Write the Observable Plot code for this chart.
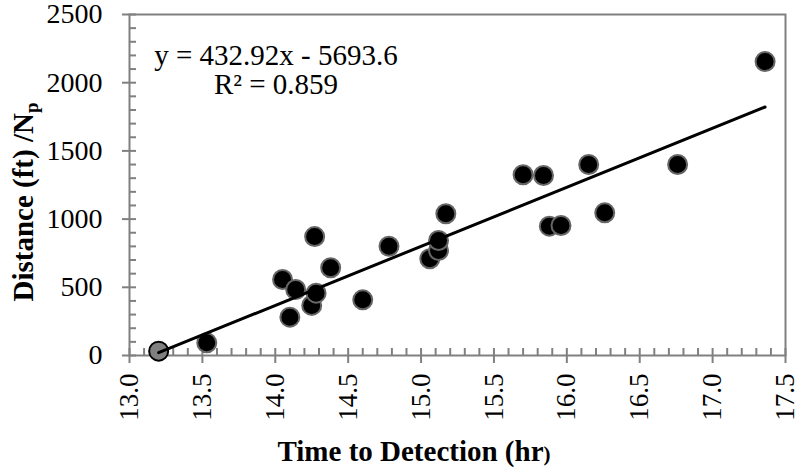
<!DOCTYPE html>
<html><head><meta charset="utf-8">
<script src="https://cdn.jsdelivr.net/npm/d3@7"></script>
<script src="https://cdn.jsdelivr.net/npm/@observablehq/plot@0.6"></script>
<style>body{margin:0;background:#fff} svg{display:block} svg text{font-family:'Liberation Serif','Times New Roman',serif !important}</style>
</head><body><div id="chart"></div>
<script>
// Data
const times = [13.53, 14.05, 14.10, 14.14, 14.25, 14.27, 14.28, 14.38, 14.60, 14.78, 15.06, 15.12, 15.12, 15.17, 15.70, 15.84, 15.88, 15.96, 16.15, 16.26, 16.76, 17.36];
const distances = [93, 557, 281, 484, 367, 872, 457, 643, 408, 801, 709, 770, 843, 1039, 1325, 1320, 948, 953, 1400, 1046, 1400, 2155];
const refTime = [13.20];
const refDistance = [32];
const xTicks = [13.0, 13.5, 14.0, 14.5, 15.0, 15.5, 16.0, 16.5, 17.0, 17.5];
const xTickLabels = ["13.0", "13.5", "14.0", "14.5", "15.0", "15.5", "16.0", "16.5", "17.0", "17.5"];
const yTicks = [0, 500, 1000, 1500, 2000, 2500];
const yTickLabels = ["0", "500", "1000", "1500", "2000", "2500"];
const slope = 432.92;
const intercept = -5693.6;
const eqText = "y = 432.92x - 5693.6";
const r2Text = "R² = 0.859";
const xTitle = "Time to Detection (hr";
const xTitleEnd = ")";
const yTitle = "Distance (ft) /N";
const yTitleSub = "p";

const W = 796, H = 467, mL = 129, mT = 14, mR = 11, mB = 112;
const innerW = W - mL - mR, innerH = H - mT - mB;
const grey = "#808080";
const font = "'Liberation Serif', 'Times New Roman', serif";

const points = times.map((t, i) => ({t, d: distances[i]}));
const ref = refTime.map((t, i) => ({t, d: refDistance[i]}));
const allT = times.concat(refTime);
const [tMin, tMax] = d3.extent(allT);
const trend = [tMin, tMax].map(t => ({t, d: slope * t + intercept}));
const minorX = d3.range(130, 176).map(v => v / 10);
const minorY = d3.range(0, 26).map(v => v * 100);

const svg = Plot.plot({
  width: W, height: H,
  marginLeft: mL, marginTop: mT, marginRight: mR, marginBottom: mB,
  style: {fontFamily: font, background: "#fff", color: "#000"},
  x: {domain: [13, 17.5]},
  y: {domain: [0, 2500]},
  marks: [
    Plot.tickX(minorX, {x: d => d, stroke: grey, strokeWidth: 2, insetTop: innerH - 7}),
    Plot.tickY(minorY, {y: d => d, stroke: grey, strokeWidth: 2, insetRight: innerW - 7}),
    Plot.frame({stroke: grey, strokeWidth: 2}),
    Plot.axisX(xTicks, {
      tickFormat: d => xTickLabels[xTicks.indexOf(d)],
      tickRotate: -90, tickSize: 8, tickPadding: 10,
      stroke: grey, strokeWidth: 2, fill: "#000",
      fontSize: 27, label: null
    }),
    Plot.axisY(yTicks, {
      tickFormat: d => yTickLabels[yTicks.indexOf(d)],
      tickSize: 7, tickPadding: 20,
      stroke: grey, strokeWidth: 2, fill: "#000",
      fontSize: 28, label: null
    }),
    Plot.dot(ref, {x: "t", y: "d", r: 9.5, fill: grey, stroke: "#000", strokeWidth: 2}),
    Plot.dot(points, {x: "t", y: "d", r: 9.5, fill: "#000", stroke: "#666", strokeWidth: 2}),
    Plot.line(trend, {x: "t", y: "d", stroke: "#000", strokeWidth: 3})
  ]
});

const s = d3.select(svg);
const eq = s.append("text").attr("font-size", 29).attr("text-anchor", "middle").attr("fill", "#000");
eq.append("tspan").attr("x", 276).attr("y", 65).text(eqText);
eq.append("tspan").attr("x", 276).attr("y", 94).text(r2Text);

const xt = s.append("text").attr("font-size", 29).attr("font-weight", "bold")
  .attr("text-anchor", "middle").attr("x", 414).attr("y", 461).attr("fill", "#000");
xt.append("tspan").text(xTitle);
xt.append("tspan").attr("font-size", 21).text(xTitleEnd);

const yt = s.append("text").attr("font-size", 29).attr("font-weight", "bold")
  .attr("text-anchor", "middle").attr("transform", "translate(33,202) rotate(-90)").attr("fill", "#000");
yt.append("tspan").text(yTitle);
yt.append("tspan").attr("font-size", 19).attr("dy", 5).text(yTitleSub);

document.getElementById("chart").appendChild(svg);
</script>
</body></html>
